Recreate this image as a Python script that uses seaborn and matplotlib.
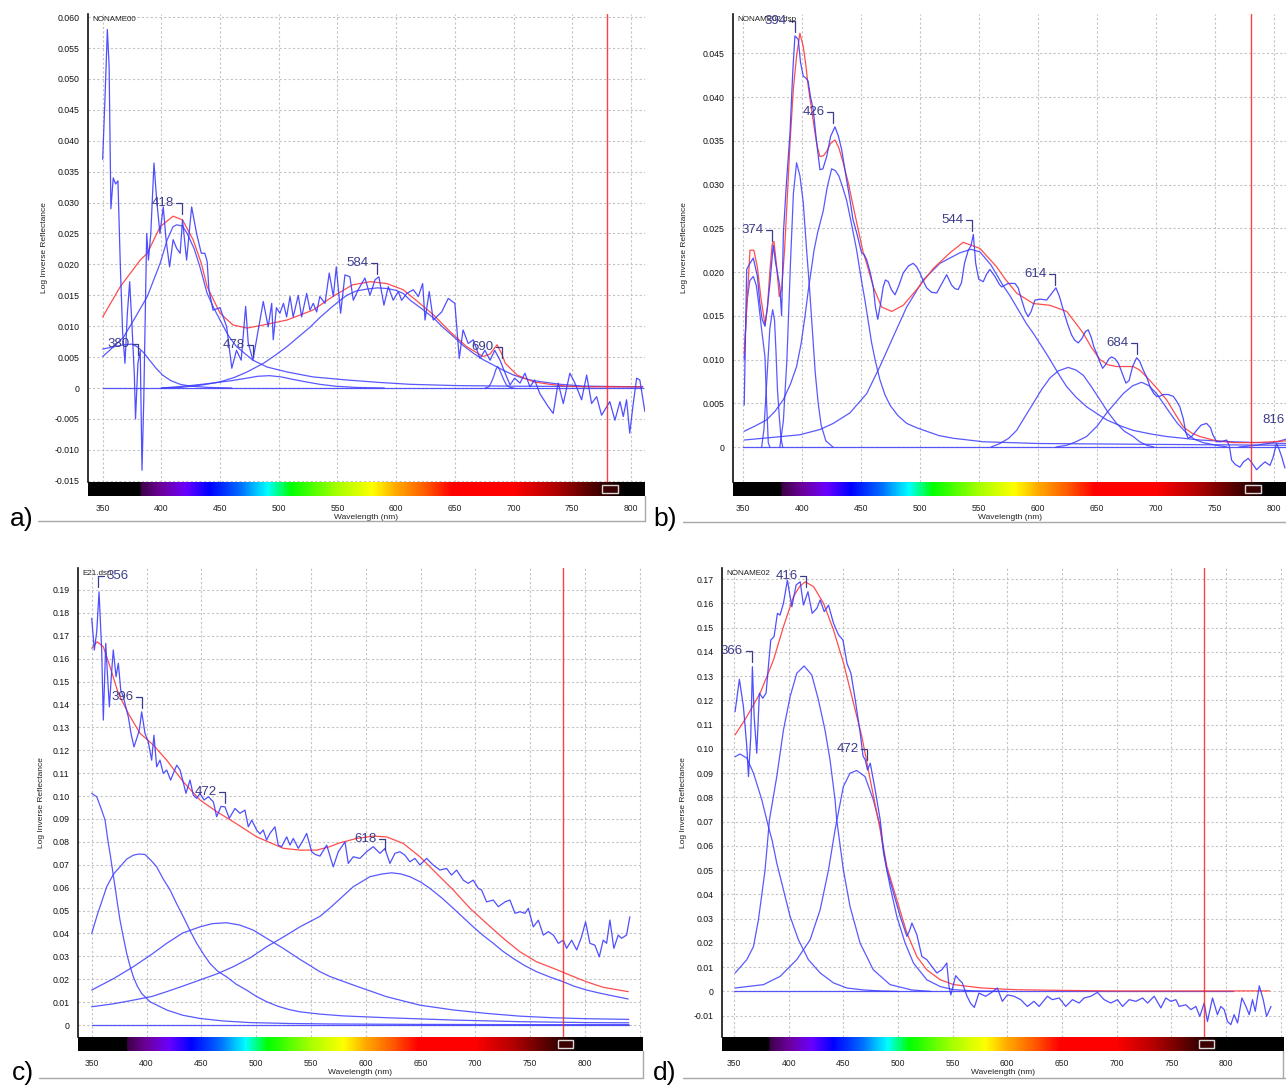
#!/usr/bin/env python3
"""Four deconvolved reflectance spectra (a-d) with fitted band components."""

import matplotlib
matplotlib.use("Agg")
import matplotlib.pyplot as plt
import numpy as np
import seaborn as sns
from matplotlib.colors import LinearSegmentedColormap
from matplotlib.lines import Line2D
from matplotlib.patches import Rectangle
from matplotlib.ticker import FixedLocator, FuncFormatter, MultipleLocator

# ---------------------------------------------------------------- panel a
A_SPEC_NM = [350, 352, 354, 355.5, 357, 359, 361, 363, 365, 367, 369, 371, 373, 375, 377, 378,
             380, 382, 383.5, 385, 387.5, 389, 391, 393.7, 396, 398.8, 401.6, 404, 407, 410,
             413, 416, 418, 421.5, 425.8, 430, 434, 437, 439, 440.5, 444, 450, 455.6, 460,
             464, 468, 471.8, 474, 478, 482.5, 486.8, 491, 494, 495.3, 498, 501, 504, 506.7,
             509.6, 512.3, 516.6, 519.5, 523.8, 526.6, 529.4, 532.3, 535, 539.4, 543, 546.5,
             549, 552.7, 556.4, 560.6, 563.5, 567.7, 573.4, 577.7, 582, 585.3, 589.6, 593.3,
             597.5, 601.8, 604.7, 609, 614.6, 618.9, 622.6, 624.6, 628.2, 631.6, 638.8, 644.4,
             650, 653.8, 657, 661.4, 665.7, 671.4, 675.6, 680, 684, 688.5, 691.8, 697, 701,
             705.5, 709.7, 714, 718, 722.4, 729.5, 733.8, 738, 742.4, 748, 752.3, 758, 762.3,
             766.5, 770.8, 775, 782, 786.4, 790.7, 793.5, 796.3, 799, 802, 804.9, 807.6, 811.9]
A_SPEC = [0.037, 0.047, 0.058, 0.052, 0.029, 0.034, 0.033, 0.0335, 0.020, 0.009, 0.004, 0.012,
          0.0172, 0.010, 0.002, -0.005, 0.004, 0.006, -0.0133, -0.002, 0.025, 0.0207, 0.025,
          0.0364, 0.0304, 0.025, 0.0293, 0.024, 0.0196, 0.024, 0.0226, 0.0218, 0.0272, 0.0207,
          0.0293, 0.025, 0.0218, 0.0218, 0.0205, 0.0159, 0.0126, 0.013, 0.0099, 0.0032, 0.0061,
          0.0045, 0.0132, 0.0073, 0.0045, 0.0094, 0.014, 0.0099, 0.0137, 0.0078, 0.013, 0.0121,
          0.0137, 0.0115, 0.0148, 0.0115, 0.015, 0.0115, 0.0153, 0.0126, 0.0137, 0.0123, 0.0148,
          0.0137, 0.0186, 0.0148, 0.0196, 0.0121, 0.0183, 0.018, 0.0142, 0.0159, 0.0178, 0.015,
          0.0175, 0.018, 0.0134, 0.0164, 0.0142, 0.0156, 0.0142, 0.0153, 0.0159, 0.0148, 0.0169,
          0.011, 0.0156, 0.011, 0.0123, 0.0145, 0.0137, 0.0048, 0.0094, 0.0072, 0.0078, 0.0048,
          0.0061, 0.0045, 0.0061, 0.0045, 0.0029, 0.0005, 0.0016, 0.0008, 0.0024, 0.0002, 0.0013,
          -0.0009, -0.003, -0.0041, 0.0008, -0.0025, 0.0024, 0.0008, -0.0019, 0.0021, -0.0025,
          -0.0014, -0.0044, -0.0022, -0.0052, -0.0022, -0.0046, -0.0019, -0.0073, -0.0025,
          0.0016, 0.0013, -0.0038]
A_FIT_NM = [350, 365, 382, 388, 399, 410, 418, 427, 434, 439, 450, 461, 473, 487, 507, 529, 546,
            563, 578, 592, 606, 617, 632, 646, 660, 674, 680, 686, 690, 693, 703, 717, 731, 745,
            760, 810]
A_FIT = [0.0115, 0.0164, 0.0207, 0.0218, 0.0261, 0.0278, 0.0272, 0.024, 0.0202, 0.0164, 0.0121,
         0.0102, 0.0097, 0.0102, 0.011, 0.0126, 0.0148, 0.0167, 0.0172, 0.0169, 0.0159, 0.0142,
         0.0118, 0.0091, 0.0067, 0.0051, 0.0055, 0.007, 0.0055, 0.004, 0.0021, 0.001, 0.0006,
         0.0003, 0.0002, 0.0002]
A_B380_NM = [350, 360, 368, 375, 380, 385, 390, 395, 401, 408, 416, 425, 440, 460]
A_B380 = [0.0063, 0.0067, 0.0070, 0.0071, 0.0066, 0.0057, 0.0045, 0.0033, 0.0021, 0.0012,
          0.0006, 0.0003, 0.0001, 0.0]
A_B418_NM = [350, 360, 368, 378, 388, 399, 405, 410, 413, 418, 422, 428, 433, 439, 445, 450,
             457, 464, 478, 490, 507, 529, 558, 586, 612, 650, 700, 810]
A_B418 = [0.0051, 0.0068, 0.0083, 0.0115, 0.0148, 0.0202, 0.024, 0.0261, 0.0264, 0.0262,
          0.025, 0.0225, 0.0195, 0.0153, 0.0128, 0.011, 0.0085, 0.0067, 0.0045, 0.0034, 0.0026,
          0.0018, 0.0013, 0.0009, 0.0006, 0.0004, 0.0003, 0.0002]
A_B478_NM = [400, 420, 444, 460, 473, 482, 492, 502, 512, 523, 535, 548, 565, 590]
A_B478 = [0.0, 0.0003, 0.0008, 0.0012, 0.0016, 0.0019, 0.002, 0.0018, 0.0014, 0.001, 0.0006,
          0.0003, 0.0001, 0.0]
A_B584_NM = [400, 416, 435, 450, 462, 473, 487, 497, 507, 517, 527, 535, 544, 551, 558, 566,
             575, 584, 592, 600, 606, 612, 622, 632, 640, 649, 657, 666, 674, 683, 691, 700,
             708, 717, 728, 740, 760, 810]
A_B584 = [0.0, 0.0001, 0.0005, 0.001, 0.0017, 0.0026, 0.004, 0.0053, 0.0067, 0.0083, 0.0099,
          0.0114, 0.0129, 0.014, 0.015, 0.0157, 0.016, 0.0162, 0.0161, 0.0158, 0.0153, 0.0142,
          0.0128, 0.0113, 0.0098, 0.0083, 0.0069, 0.0056, 0.0046, 0.0037, 0.0029, 0.0021,
          0.0016, 0.0012, 0.0009, 0.0006, 0.0003, 0.0002]
A_B690_NM = [676, 679, 681, 683, 685, 686.5, 688, 690, 692, 694, 697, 700]
A_B690 = [0.0, 0.0002, 0.0009, 0.0018, 0.003, 0.0035, 0.003, 0.0021, 0.0012, 0.0005, 0.0001, 0.0]
A_BASE_NM = [350, 810]
A_BASE = [0.0, 0.0]
A_PEAK_NM = [418, 584, 380, 478, 690]
A_PEAK_Y = [0.0300, 0.0202, 0.0071, 0.0070, 0.0066]
A_PEAK_SIDE = ["left", "left", "left", "left", "left"]

# ---------------------------------------------------------------- panel b
B_SPEC_NM = [350.8, 352.9, 355.7, 358.5, 362, 364, 366, 368.4, 370.5, 372.6, 375.4, 377.5,
             379.5, 381, 382.5, 384, 386.5, 389.6, 392, 393.8, 396.6, 398.5, 400.8, 403, 405,
             407, 409.3, 412, 415, 417.5, 420.7, 424, 427.7, 430.5, 433.4, 437, 440.4, 443,
             446.1, 450.3, 452.5, 454.6, 457.5, 460.2, 462, 464, 466.5, 468.6, 470.5, 472.9,
             475.5, 478.6, 482, 485.6, 490, 494, 497, 499.7, 502.5, 505.4, 509.5, 513.9, 518,
             522.4, 526.6, 529.5, 532.2, 535, 537.5, 540.7, 543, 545, 547, 549.5, 553.4, 556,
             559, 563.3, 567, 569, 574.6, 580.3, 583, 586, 589, 591.5, 594, 597.2, 602, 607.1,
             611, 615, 618, 621.2, 625, 628.3, 631, 633.9, 637, 640, 642.4, 645, 647, 649.5,
             652, 654.6, 657, 660, 662.2, 665, 667.8, 671, 674.3, 677, 680, 683.4, 686, 689,
             691.9, 695, 698, 700.3, 703, 706, 710, 714.4, 717, 720, 723, 725, 727.1, 730,
             734.2, 738, 742.7, 746, 748, 751.2, 755, 759.7, 762, 763.9, 767, 770.9, 774, 778,
             781, 785.1, 788, 792.2, 796.4, 799, 802, 804, 806.3, 809.1]
B_SPEC = [0.0048, 0.0203, 0.021, 0.0216, 0.0195, 0.0165, 0.0146, 0.0138, 0.016, 0.0187,
          0.0231, 0.021, 0.0195, 0.0183, 0.015, 0.0244, 0.030, 0.0359, 0.043, 0.047, 0.0466,
          0.044, 0.0424, 0.0422, 0.0418, 0.040, 0.0386, 0.035, 0.0317, 0.0318, 0.0332, 0.0355,
          0.0366, 0.0356, 0.034, 0.031, 0.0283, 0.026, 0.0245, 0.0222, 0.022, 0.0214, 0.020,
          0.0183, 0.016, 0.0146, 0.0165, 0.0183, 0.0191, 0.0189, 0.018, 0.0174, 0.0185, 0.0199,
          0.0207, 0.021, 0.0206, 0.0199, 0.019, 0.0182, 0.0177, 0.0176, 0.0186, 0.0197, 0.0185,
          0.0181, 0.018, 0.0188, 0.021, 0.0225, 0.023, 0.0243, 0.021, 0.0192, 0.0189, 0.0197,
          0.0203, 0.0195, 0.0186, 0.0183, 0.0187, 0.0187, 0.0182, 0.0168, 0.0155, 0.0149,
          0.0155, 0.0168, 0.0169, 0.0168, 0.0175, 0.0182, 0.0172, 0.0157, 0.014, 0.0128, 0.0122,
          0.0119, 0.0124, 0.0132, 0.0134, 0.0125, 0.0115, 0.0107, 0.0098, 0.009, 0.0094, 0.0101,
          0.0103, 0.0101, 0.0096, 0.0085, 0.0073, 0.0076, 0.0092, 0.0102, 0.0098, 0.0088, 0.008,
          0.0068, 0.0061, 0.0058, 0.0058, 0.006, 0.006, 0.0058, 0.0053, 0.0046, 0.0032, 0.0017,
          0.001, 0.0012, 0.0019, 0.0025, 0.0027, 0.0022, 0.0014, 0.0006, 0.0006, 0.0008, 0.0001,
          -0.0015, -0.002, -0.0023, -0.0017, -0.0013, -0.0018, -0.0026, -0.0022, -0.0017,
          -0.0021, -0.0012, 0.0004, -0.0002, -0.0011, -0.0024]
B_FIT_NM = [350.8, 353, 355.7, 359, 362, 365, 368.4, 370.5, 372.5, 374.5, 376, 378, 380.5,
            382.5, 385, 387.5, 389.6, 392.5, 395.2, 398, 400.8, 403, 405, 408, 410.8, 413, 415,
            418, 420.7, 424, 427.7, 431, 434.7, 439, 443.2, 447.5, 451.7, 454.6, 460.2, 467.3,
            475.8, 485.6, 497, 511, 525.2, 536.4, 550.6, 564.7, 572, 581.7, 595.8, 610, 624.1,
            631, 638.2, 645, 652.3, 659, 666.4, 680.5, 686, 691.9, 700, 708.8, 716, 722.9, 730,
            737, 751.2, 765.3, 782.2, 799.2, 810]
B_FIT = [0.0107, 0.016, 0.0225, 0.0225, 0.0205, 0.017, 0.014, 0.016, 0.020, 0.0232, 0.0235,
         0.021, 0.0172, 0.018, 0.0225, 0.029, 0.0347, 0.041, 0.0447, 0.0473, 0.0458, 0.0437,
         0.0413, 0.0385, 0.0359, 0.0342, 0.0332, 0.0333, 0.0338, 0.0347, 0.0351, 0.0342, 0.0325,
         0.0302, 0.0275, 0.0248, 0.0222, 0.021, 0.0183, 0.016, 0.0155, 0.0162, 0.018, 0.0204,
         0.0222, 0.0234, 0.0227, 0.0206, 0.0192, 0.0176, 0.0164, 0.0162, 0.0155, 0.0143, 0.013,
         0.0114, 0.010, 0.0094, 0.0092, 0.0092, 0.0088, 0.008, 0.0068, 0.0054, 0.0038, 0.0023,
         0.0016, 0.0012, 0.0007, 0.0005, 0.0005, 0.0006, 0.0007]
B_B358_NM = [350.8, 353, 355.5, 358.5, 361, 362.7, 365.5, 368.4, 369.8, 371.2, 372.5]
B_B358 = [0.010, 0.0165, 0.019, 0.0195, 0.0185, 0.0168, 0.0135, 0.0103, 0.005, 0.0005, 0.0]
B_B374_NM = [365.6, 367.5, 369.8, 372.5, 374.9, 376.5, 377.7, 379, 380.5, 382, 383.4]
B_B374 = [0.0, 0.002, 0.0073, 0.0135, 0.0157, 0.0145, 0.011, 0.0065, 0.0035, 0.001, 0.0]
B_B395_NM = [381, 384, 387, 390, 392.5, 395.2, 398, 400.8, 403.7, 406.5, 409, 411, 413.5, 416,
             420, 426]
B_B395 = [0.0, 0.003, 0.010, 0.021, 0.029, 0.0325, 0.031, 0.028, 0.0225, 0.0175, 0.0125,
          0.0085, 0.005, 0.0025, 0.0007, 0.0]
B_B426_NM = [350.8, 360, 369.8, 377, 383.9, 390, 395.2, 399, 402.3, 405, 408, 410, 413, 417.8,
             421, 424.9, 428, 431, 434, 437.6, 441, 446.1, 450, 453.1, 456, 458.8, 462, 465.8,
             470, 474.3, 481, 488.5, 497, 505.4, 516, 528, 553.4, 600, 700, 810]
B_B426 = [0.0018, 0.0024, 0.0031, 0.0041, 0.0054, 0.0072, 0.0092, 0.0118, 0.0149, 0.0178,
          0.0206, 0.0225, 0.0245, 0.0270, 0.0296, 0.0318, 0.0316, 0.031, 0.0298, 0.0282, 0.026,
          0.0225, 0.0192, 0.0168, 0.0143, 0.0119, 0.0098, 0.0077, 0.006, 0.0048, 0.0036,
          0.0027, 0.0022, 0.0018, 0.0013, 0.001, 0.0006, 0.0004, 0.0003, 0.0002]
B_B544_NM = [350.8, 375, 398, 415, 426.3, 440.4, 454.6, 465.8, 477.1, 488.5, 502.5, 516.7,
             533.6, 543, 550.6, 560, 570, 576, 581.7, 590, 595.8, 603, 610, 617, 624.1, 632,
             641, 650, 658, 670, 680.5, 695, 708.8, 737, 765, 810]
B_B544 = [0.0008, 0.0011, 0.0014, 0.002, 0.0027, 0.0039, 0.0061, 0.0092, 0.0126, 0.016, 0.0191,
          0.021, 0.0222, 0.0226, 0.0223, 0.0208, 0.0185, 0.0173, 0.016, 0.0141, 0.013, 0.0115,
          0.010, 0.0084, 0.0069, 0.0057, 0.0046, 0.0038, 0.0031, 0.0024, 0.0019, 0.0015,
          0.0012, 0.0008, 0.0006, 0.0004]
B_B624_NM = [560, 567.6, 575, 581.7, 588, 595.8, 603, 610, 617, 625.4, 632, 638.2, 645, 652.3,
             659, 666.4, 673, 680.5, 686, 691.9, 698]
B_B624 = [0.0, 0.0004, 0.001, 0.0019, 0.0033, 0.005, 0.0066, 0.0079, 0.0087, 0.0091, 0.0088,
          0.0082, 0.0069, 0.0054, 0.004, 0.0027, 0.0018, 0.0012, 0.0006, 0.0002, 0.0]
B_B688_NM = [615, 624.1, 632, 641, 650, 658, 665, 672, 680, 687.6, 694, 700.3, 706, 711.6, 718,
             725.7, 732, 739.8, 751, 760]
B_B688 = [0.0, 0.0002, 0.0006, 0.0012, 0.0024, 0.0039, 0.005, 0.0061, 0.0070, 0.0074, 0.007,
          0.0061, 0.005, 0.0039, 0.0027, 0.0016, 0.0009, 0.0005, 0.0002, 0.0]
B_B816_NM = [770, 785, 795, 805, 810]
B_B816 = [0.0, 0.0002, 0.0004, 0.0007, 0.0009]
B_BASE_NM = [350, 810]
B_BASE = [0.0, 0.0]
B_PEAK_NM = [394, 374, 426, 544, 614, 684, 816]
B_PEAK_Y = [0.0487, 0.0248, 0.0383, 0.0260, 0.0198, 0.0119, 0.0031]
B_PEAK_SIDE = ["left"] * 7

# ---------------------------------------------------------------- panel c
C_SPEC_NM = [350, 352.4, 354.6, 356.7, 359.1, 360.6, 362.8, 364.3, 366.1, 368.3, 369.7, 372.2,
             374.3, 376.5, 378.8, 383.4, 386, 388.6, 391.6, 393.5, 395.6, 398.6, 401.6, 404.7,
             406.8, 409.3, 412.3, 415.3, 418.4, 422, 424.5, 427.6, 430.6, 433, 436, 439.7,
             442.7, 445.8, 448.8, 452.5, 456.4, 461, 464, 468, 471.6, 475.5, 480.7, 485.3,
             489.8, 492.9, 496, 500.5, 503.5, 506.5, 509.6, 512.6, 517.2, 520.2, 523.3, 527.9,
             530.9, 533.9, 538.5, 543, 546.1, 550.7, 554, 558.3, 564.4, 570.4, 575, 581.1,
             584.1, 588.6, 594.7, 600.8, 606.9, 613, 617.5, 622.1, 626.7, 631.2, 635.8, 640.3,
             644.9, 649.5, 655.5, 661.6, 667.7, 673.8, 678.3, 682.9, 689, 693.5, 698.1, 702.7,
             705.7, 710.3, 716.4, 721, 727.1, 731.6, 736.2, 740.8, 745.3, 748.4, 752.9, 757.5,
             762.1, 766.6, 771.2, 775.8, 780.3, 783.3, 787.9, 792.5, 797, 800.6, 804.6, 809.1,
             813.1, 816.7, 819.8, 822.8, 826.4, 830.4, 833.4, 838, 841]
C_SPEC = [0.1776, 0.1638, 0.1718, 0.1892, 0.1638, 0.1332, 0.1667, 0.1536, 0.139, 0.155, 0.1638,
          0.1521, 0.158, 0.1463, 0.1434, 0.1346, 0.127, 0.1215, 0.1259, 0.129, 0.1368, 0.1274,
          0.1237, 0.1157, 0.1266, 0.1128, 0.1157, 0.1099, 0.1114, 0.107, 0.1099, 0.1135,
          0.1114, 0.107, 0.1012, 0.107, 0.1004, 0.099, 0.1012, 0.0983, 0.0997, 0.0975, 0.091,
          0.0955, 0.0953, 0.0903, 0.0946, 0.0925, 0.0939, 0.0866, 0.0895, 0.0852, 0.0835,
          0.0852, 0.0808, 0.0837, 0.0866, 0.0786, 0.0779, 0.0822, 0.0786, 0.0815, 0.0772,
          0.0808, 0.0837, 0.0757, 0.0745, 0.0738, 0.0786, 0.0691, 0.0757, 0.080, 0.0706, 0.0735,
          0.0728, 0.0757, 0.0779, 0.075, 0.0771, 0.0706, 0.075, 0.0757, 0.0742, 0.0713, 0.0728,
          0.0699, 0.0728, 0.0699, 0.0677, 0.0684, 0.0655, 0.0677, 0.0633, 0.0619, 0.0633,
          0.0597, 0.059, 0.0538, 0.0546, 0.0517, 0.0538, 0.0546, 0.0488, 0.0495, 0.0488, 0.051,
          0.0429, 0.0458, 0.0393, 0.0408, 0.0393, 0.0357, 0.0371, 0.0335, 0.0371, 0.0328,
          0.0386, 0.0451, 0.0357, 0.0349, 0.0298, 0.0371, 0.0357, 0.0459, 0.0335, 0.0393,
          0.0379, 0.0393, 0.0473]
C_FIT_NM = [350, 355, 360.6, 366.7, 374.3, 383.4, 394.1, 406.2, 418.4, 433.6, 448.8, 464, 479.2,
            500.5, 524.8, 540, 555.3, 567, 576.5, 591.7, 606.9, 619, 634.3, 649.5, 664.7, 679.9,
            695.1, 710.3, 725.5, 740.8, 756, 771.2, 786.4, 801.5, 816.7, 839.5]
C_FIT = [0.1645, 0.1674, 0.1652, 0.1565, 0.1448, 0.1361, 0.1274, 0.1223, 0.1157, 0.1062,
         0.0983, 0.0932, 0.0888, 0.0822, 0.0772, 0.0764, 0.0764, 0.0779, 0.0796, 0.0815,
         0.0825, 0.0822, 0.0793, 0.0735, 0.0662, 0.059, 0.051, 0.0444, 0.0379, 0.032, 0.0276,
         0.0248, 0.0218, 0.0189, 0.0165, 0.0146]
C_B356_NM = [350, 354.6, 359.1, 362.2, 364.5, 366.7, 369, 371.3, 373.5, 375.8, 379, 381.9, 385,
             388, 391.5, 395.6, 403.2, 418.4, 433, 448.8, 470, 494, 530, 567, 650, 750, 840]
C_B356 = [0.1012, 0.0997, 0.0939, 0.0895, 0.0815, 0.075, 0.0677, 0.0604, 0.053, 0.0459, 0.0381,
          0.0313, 0.0257, 0.0211, 0.0171, 0.0138, 0.0102, 0.0066, 0.0043, 0.0029, 0.0018,
          0.0011, 0.0007, 0.0005, 0.0003, 0.0002, 0.0002]
C_B396_NM = [350, 355, 363.7, 370, 375.8, 382, 388, 393, 398.6, 404, 409.3, 415, 421.5, 427.5,
             433.6, 440, 445.8, 452, 457.9, 465, 473, 482, 491.3, 500, 509.6, 520, 530, 540,
             558, 580, 620, 680, 740, 800, 840]
C_B396 = [0.040, 0.048, 0.0604, 0.066, 0.0691, 0.0725, 0.0742, 0.0747, 0.0745, 0.072, 0.0691,
          0.064, 0.059, 0.053, 0.0473, 0.041, 0.0357, 0.031, 0.0269, 0.0235, 0.0211, 0.0178,
          0.0153, 0.0126, 0.0102, 0.0082, 0.0068, 0.0058, 0.0048, 0.004, 0.0032, 0.0022,
          0.0015, 0.0011, 0.001]
C_B472_NM = [350, 370, 388, 405, 418.4, 433, 448.8, 460, 473, 485, 497.3, 510, 524.8, 540,
             558.3, 567.4, 588.6, 619, 649.5, 680, 710.3, 740.8, 771, 800, 840]
C_B472 = [0.0153, 0.0203, 0.0255, 0.031, 0.0357, 0.0402, 0.0429, 0.0443, 0.0447, 0.0437,
          0.0415, 0.0378, 0.0335, 0.0287, 0.0233, 0.0212, 0.0175, 0.0124, 0.0087, 0.0066,
          0.0051, 0.0039, 0.0032, 0.0028, 0.0025]
C_B618_NM = [350, 370, 388, 405, 418.4, 433, 448.8, 465, 479.2, 495, 509.6, 525, 540, 558.3,
             567, 573.5, 588.6, 603.8, 615, 623.6, 632, 640.3, 650, 658.6, 670, 679.9, 690,
             698.1, 707, 716.4, 725, 734.6, 745, 756, 768, 780.3, 790, 801.5, 815, 825, 839.5]
C_B618 = [0.008, 0.0093, 0.0109, 0.0125, 0.0146, 0.017, 0.0197, 0.0225, 0.0255, 0.0295, 0.0342,
          0.0385, 0.0429, 0.0475, 0.051, 0.0538, 0.0604, 0.0648, 0.066, 0.0665, 0.066, 0.0648,
          0.0625, 0.0597, 0.0553, 0.051, 0.0465, 0.0429, 0.0392, 0.0357, 0.0323, 0.0291, 0.026,
          0.0233, 0.021, 0.0189, 0.017, 0.0153, 0.0138, 0.0128, 0.0114]
C_BASE_NM = [350, 840]
C_BASE = [0.0, 0.0]
C_PEAK_NM = [356, 396, 472, 618]
C_PEAK_Y = [0.1960, 0.1434, 0.1019, 0.0811]
C_PEAK_SIDE = ["right", "left", "left", "left"]

# ---------------------------------------------------------------- panel d
D_SPEC_NM = [351, 354.9, 358.6, 361.7, 363.2, 365.3, 366.8, 368.4, 370.8, 373.2, 376.3, 379.3,
             381.4, 383.6, 386.6, 389.7, 392.1, 395.2, 398.8, 402.9, 406.8, 410.5, 413.5, 417.6,
             421.5, 425.8, 428.8, 432.5, 436.4, 441, 445.6, 449.6, 453.3, 456.9, 460.9, 465.4,
             468, 470, 472.1, 474.6, 479.1, 483.7, 486.8, 489.8, 495.9, 502, 508.1, 510.5,
             512.7, 517.2, 521.8, 526.3, 530.9, 535.5, 540, 544.6, 546.6, 548.3, 552.7, 555.5,
             558.8, 563.1, 566.5, 569.8, 574, 580.1, 584.7, 590.8, 595.4, 600, 606.1, 612.2,
             618.3, 624.4, 629, 636.6, 641.2, 647.3, 653.4, 659.5, 665.6, 670.2, 676.3, 682.4,
             688.5, 694.6, 700.7, 705.3, 711.4, 717.5, 723.6, 728.2, 734.3, 740.4, 744.9, 749.5,
             754.1, 757.1, 763.2, 767.8, 772.4, 776, 780, 783, 787.6, 792.1, 795.2, 798.3, 801.3,
             804.4, 807.4, 810.5, 814.5, 818.2, 821.2, 824.2, 826.7, 830.4, 834, 837.1, 841.1]
D_SPEC = [0.1154, 0.1287, 0.1174, 0.1009, 0.0886, 0.1051, 0.1339, 0.1133, 0.0982, 0.123,
          0.1209, 0.123, 0.1339, 0.1449, 0.1463, 0.1559, 0.1552, 0.160, 0.1696, 0.1586, 0.1676,
          0.1689, 0.1593, 0.1648, 0.1559, 0.158, 0.1614, 0.1566, 0.1593, 0.1518, 0.147, 0.1449,
          0.1353, 0.1312, 0.1202, 0.1065, 0.097, 0.0955, 0.0913, 0.0941, 0.0831, 0.0707, 0.058,
          0.0501, 0.0405, 0.0309, 0.0227, 0.025, 0.0282, 0.0234, 0.0144, 0.0131, 0.0103, 0.0076,
          0.0089, 0.0117, 0.002, -0.0014, 0.0065, 0.005, 0.0035, -0.002, -0.005, -0.0066,
          -0.0007, -0.002, -0.0007, 0.0014, -0.0041, -0.0014, -0.002, -0.0034, -0.0062, -0.0041,
          -0.0062, -0.002, -0.0034, -0.0027, -0.0062, -0.0034, -0.0048, -0.0027, -0.002,
          -0.0004, -0.0034, -0.0048, -0.0034, -0.0062, -0.0034, -0.0041, -0.0027, -0.0048,
          -0.002, -0.0068, -0.0027, -0.0041, -0.0034, -0.0062, -0.0055, -0.0075, -0.0062,
          -0.0103, -0.0048, -0.0124, -0.0027, -0.0096, -0.0062, -0.0075, -0.0124, -0.0137,
          -0.0096, -0.013, -0.0027, -0.0062, -0.0096, -0.0034, -0.0082, 0.0023, -0.0034,
          -0.0103, -0.0062]
D_FIT_NM = [351, 361.7, 373.9, 386.1, 395.2, 404.4, 410, 415.1, 422.8, 431.9, 441, 450.2, 459.3,
            466.9, 474.6, 483.7, 489.8, 498.9, 508.1, 517.2, 526.3, 538.6, 550.8, 577, 607.4,
            653, 700, 840]
D_FIT = [0.1058, 0.1133, 0.123, 0.1367, 0.1504, 0.1628, 0.167, 0.1689, 0.1669, 0.160, 0.149,
         0.1353, 0.1188, 0.1051, 0.0872, 0.0666, 0.0515, 0.0378, 0.0241, 0.0144, 0.0089, 0.0048,
         0.0028, 0.0014, 0.0007, 0.0004, 0.0002, 0.0002]
D_B366_NM = [351, 355.5, 361.7, 367.8, 375.4, 381.4, 385, 389.1, 395.2, 401.3, 408.9, 418,
             428.8, 441, 453.3, 468.6, 483.7, 500]
D_B366 = [0.0968, 0.0979, 0.0962, 0.090, 0.079, 0.068, 0.062, 0.0529, 0.0419, 0.0309, 0.0213,
          0.0131, 0.0076, 0.0035, 0.0014, 0.0006, 0.0002, 0.0]
D_B416_NM = [351, 361.7, 367.8, 372.3, 378.4, 382.4, 389.1, 395.2, 401.3, 407.4, 414.1, 421.1,
             427.2, 433.2, 437.8, 442.4, 443.9, 450, 456.1, 465.3, 477.4, 492.7, 512.5, 530]
D_B416 = [0.0076, 0.0131, 0.0185, 0.0295, 0.0501, 0.0708, 0.0886, 0.1078, 0.1216, 0.1312,
          0.1342, 0.1305, 0.1202, 0.1078, 0.0955, 0.079, 0.0708, 0.0501, 0.035, 0.0199, 0.0089,
          0.0028, 0.0006, 0.0]
D_B472_NM = [351, 377, 392.1, 407.4, 419.6, 428.8, 436.4, 442.4, 450, 456.1, 462.2, 469.8,
             477.4, 483.7, 486.8, 492.7, 498.9, 506.5, 514.1, 526.3, 538.6, 550.8, 570, 600]
D_B472 = [0.0014, 0.0028, 0.0062, 0.0131, 0.0213, 0.0337, 0.0501, 0.0666, 0.0845, 0.090,
          0.0911, 0.0886, 0.079, 0.068, 0.057, 0.0433, 0.0309, 0.0199, 0.0117, 0.0048, 0.002,
          0.0007, 0.0002, 0.0]
D_BASE_NM = [350, 806]
D_BASE = [0.0, 0.0]
D_PEAK_NM = [416, 366, 472]
D_PEAK_Y = [0.1713, 0.1405, 0.0999]
D_PEAK_SIDE = ["left", "left", "left"]

# spectrum strip under each plot
STRIP_NM = [330, 380, 381, 400, 420, 440, 465, 490, 510, 550, 580, 600, 625, 648, 700, 735,
            765, 786, 795, 860]
STRIP_COLORS = ["#000000", "#000000", "#3c0046", "#6e009e", "#6a00ff", "#0000ff", "#0064ff",
                "#00ffff", "#00ff00", "#a8ff00", "#ffff00", "#ffaa00", "#ff5a00", "#ff0000",
                "#ff0000", "#b40000", "#5a0000", "#1e0000", "#000000", "#000000"]

W, H = 1286, 1087
BLUE = "#3c3cff"
RED = "#ff3a3a"
LABEL_BLUE = "#3c3c8c"
CURSOR_NM = 780


def px_rect(l, t, r, b):
    return [l / W, 1 - b / H, (r - l) / W, (b - t) / H]


def fmt_factory(decimals):
    def fmt(v, _pos):
        if abs(v) < 1e-9:
            return "0"
        return f"{v:.{decimals}f}"
    return FuncFormatter(fmt)


def draw_panel(fig, box, xlim, ylim, ystep, yminor, decimals, ylabel_px, name,
               curves, spec, fit, peaks, top_major):
    l, t, r, b = box
    ax = fig.add_axes(px_rect(l, t, r, b))
    strip = fig.add_axes(px_rect(l, b, r, b + 14))

    for nm, vals in curves:
        sns.lineplot(x=nm, y=vals, ax=ax, color=BLUE, lw=0.9, alpha=0.85,
                     estimator=None, sort=False)
    sns.lineplot(x=fit[0], y=fit[1], ax=ax, color=RED, lw=0.9, alpha=0.9,
                 estimator=None, sort=False)
    sns.lineplot(x=spec[0], y=spec[1], ax=ax, color=BLUE, lw=0.9, alpha=0.9,
                 estimator=None, sort=False)
    ax.axvline(CURSOR_NM, color="#ff2020", lw=1.0, alpha=0.85)

    ax.set_xlim(*xlim)
    ax.set_ylim(*ylim)
    ax.set_xticks(np.arange(350, top_major + 1, 50))
    ax.tick_params(axis="x", length=0, labelbottom=False)
    ax.yaxis.set_major_locator(MultipleLocator(ystep))
    ax.yaxis.set_minor_locator(MultipleLocator(yminor))
    ax.yaxis.set_major_formatter(fmt_factory(decimals))
    ax.tick_params(axis="y", which="major", direction="out", length=4, width=0.8,
                   labelsize=6.3, colors="#111111", pad=2)
    ax.tick_params(axis="y", which="minor", direction="out", length=2, width=0.6,
                   colors="#111111")
    ax.grid(True, which="major", color="#c4c4c4", lw=0.8, ls=(0, (2, 2)))
    for side in ("top", "right", "bottom"):
        ax.spines[side].set_visible(False)
    ax.spines["left"].set_color("#111111")
    ax.spines["left"].set_linewidth(1.2)
    ax.set_xlabel("")
    ax.set_ylabel("Log Inverse Reflectance", fontsize=6, color="#222222")
    ax.yaxis.set_label_coords((ylabel_px - l) / (r - l), 0.5)

    ax.text(4 / (r - l), 1 - 2 / (b - t), name, transform=ax.transAxes, fontsize=5.8,
            color="#222222", va="top", ha="left")

    # peak labels with bracket down to the band position
    px_nm = (r - l) / (xlim[1] - xlim[0])
    px_val = (b - t) / (ylim[1] - ylim[0])
    for nm, yv, side in zip(*peaks):
        dx = 6 / px_nm
        dy = 11 / px_val
        gap = 2.5 / px_nm
        if side == "right":
            ax.plot([nm + dx, nm, nm], [yv, yv, yv - dy], color=LABEL_BLUE, lw=0.9)
            ax.text(nm + dx + gap, yv, str(nm), ha="left", va="center",
                    fontsize=9.5, color=LABEL_BLUE)
        else:
            ax.plot([nm - dx, nm, nm], [yv, yv, yv - dy], color=LABEL_BLUE, lw=0.9)
            ax.text(nm - dx - gap, yv, str(nm), ha="right", va="center",
                    fontsize=9.5, color=LABEL_BLUE)

    # wavelength colour strip
    cmap = LinearSegmentedColormap.from_list(
        "spectrum",
        [((v - STRIP_NM[0]) / (STRIP_NM[-1] - STRIP_NM[0]), c)
         for v, c in zip(STRIP_NM, STRIP_COLORS)])
    strip.imshow(np.linspace(0, 1, 800)[None, :], aspect="auto", cmap=cmap,
                 extent=(STRIP_NM[0], STRIP_NM[-1], 0, 1), interpolation="bilinear")
    strip.add_patch(Rectangle((775.5, 0.18), 13.5, 0.64, facecolor="#3c0000",
                              edgecolor="#d8d8d8", lw=1.0))
    strip.set_xlim(*xlim)
    strip.set_ylim(0, 1)
    strip.set_yticks([])
    strip.xaxis.set_major_locator(FixedLocator(list(range(350, top_major + 1, 50))))
    strip.xaxis.set_minor_locator(MultipleLocator(5))
    strip.set_xticklabels([str(v) if v <= 800 else "" for v in range(350, top_major + 1, 50)])
    strip.tick_params(axis="x", which="major", direction="out", length=4, width=0.8,
                      labelsize=6.2, colors="#222222", pad=1.5)
    strip.tick_params(axis="x", which="minor", direction="out", length=2.5, width=0.6,
                      colors="#222222")
    for side in strip.spines.values():
        side.set_visible(False)
    strip.set_xlabel("Wavelength (nm)", fontsize=6, color="#222222", labelpad=1)
    return ax


def frame(fig, letter, letter_xy, x0, x1, y, x_right=None, y_top=None):
    fig.text(letter_xy[0] / W, 1 - letter_xy[1] / H, letter, fontsize=19, color="#000000",
             ha="left", va="baseline")
    fig.add_artist(Line2D([x0 / W, x1 / W], [1 - y / H, 1 - y / H], color="#a8a8a8", lw=1.0))
    if x_right is not None:
        fig.add_artist(Line2D([x_right / W, x_right / W], [1 - y_top / H, 1 - y / H],
                              color="#a8a8a8", lw=1.0))


def main():
    sns.set_theme(style="white")
    plt.rcParams["font.family"] = ["Liberation Sans", "DejaVu Sans"]

    fig = plt.figure(figsize=(W / 100, H / 100), dpi=100)
    fig.patch.set_facecolor("white")

    draw_panel(fig, (88, 14, 645, 482), (337.5, 812), (-0.0152, 0.0605), 0.005, 0.0005, 3,
               47.5, "NONAME00",
               [(A_BASE_NM, A_BASE), (A_B380_NM, A_B380), (A_B418_NM, A_B418),
                (A_B478_NM, A_B478), (A_B584_NM, A_B584), (A_B690_NM, A_B690)],
               (A_SPEC_NM, A_SPEC), (A_FIT_NM, A_FIT),
               (A_PEAK_NM, A_PEAK_Y, A_PEAK_SIDE), 800)
    draw_panel(fig, (733, 14, 1286, 482), (341.3, 810), (-0.004, 0.0495), 0.005, 0.0005, 3,
               687.5, "NONAME02.dsp",
               [(B_BASE_NM, B_BASE), (B_B358_NM, B_B358), (B_B374_NM, B_B374),
                (B_B395_NM, B_B395), (B_B426_NM, B_B426), (B_B544_NM, B_B544),
                (B_B624_NM, B_B624), (B_B688_NM, B_B688), (B_B816_NM, B_B816)],
               (B_SPEC_NM, B_SPEC), (B_FIT_NM, B_FIT),
               (B_PEAK_NM, B_PEAK_Y, B_PEAK_SIDE), 800)
    draw_panel(fig, (78, 568, 643, 1037), (337.5, 853), (-0.0052, 0.1996), 0.01, 0.001, 2,
               45, "E21.dsp",
               [(C_BASE_NM, C_BASE), (C_B356_NM, C_B356), (C_B396_NM, C_B396),
                (C_B472_NM, C_B472), (C_B618_NM, C_B618)],
               (C_SPEC_NM, C_SPEC), (C_FIT_NM, C_FIT),
               (C_PEAK_NM, C_PEAK_Y, C_PEAK_SIDE), 850)
    draw_panel(fig, (722, 568, 1284, 1037), (339, 853), (-0.0188, 0.1746), 0.01, 0.001, 2,
               687, "NONAME02",
               [(D_BASE_NM, D_BASE), (D_B366_NM, D_B366), (D_B416_NM, D_B416),
                (D_B472_NM, D_B472)],
               (D_SPEC_NM, D_SPEC), (D_FIT_NM, D_FIT),
               (D_PEAK_NM, D_PEAK_Y, D_PEAK_SIDE), 850)

    frame(fig, "a)", (10, 526), 38, 645, 521, 645, 496)
    frame(fig, "b)", (653, 526), 683, 1286, 522)
    frame(fig, "c)", (12, 1080), 39, 643, 1078, 643, 1051)
    frame(fig, "d)", (653, 1080), 683, 1286, 1078, 1283, 1051)

    fig.savefig("out.png", dpi=100, facecolor="white")
    plt.close(fig)


if __name__ == "__main__":
    main()
